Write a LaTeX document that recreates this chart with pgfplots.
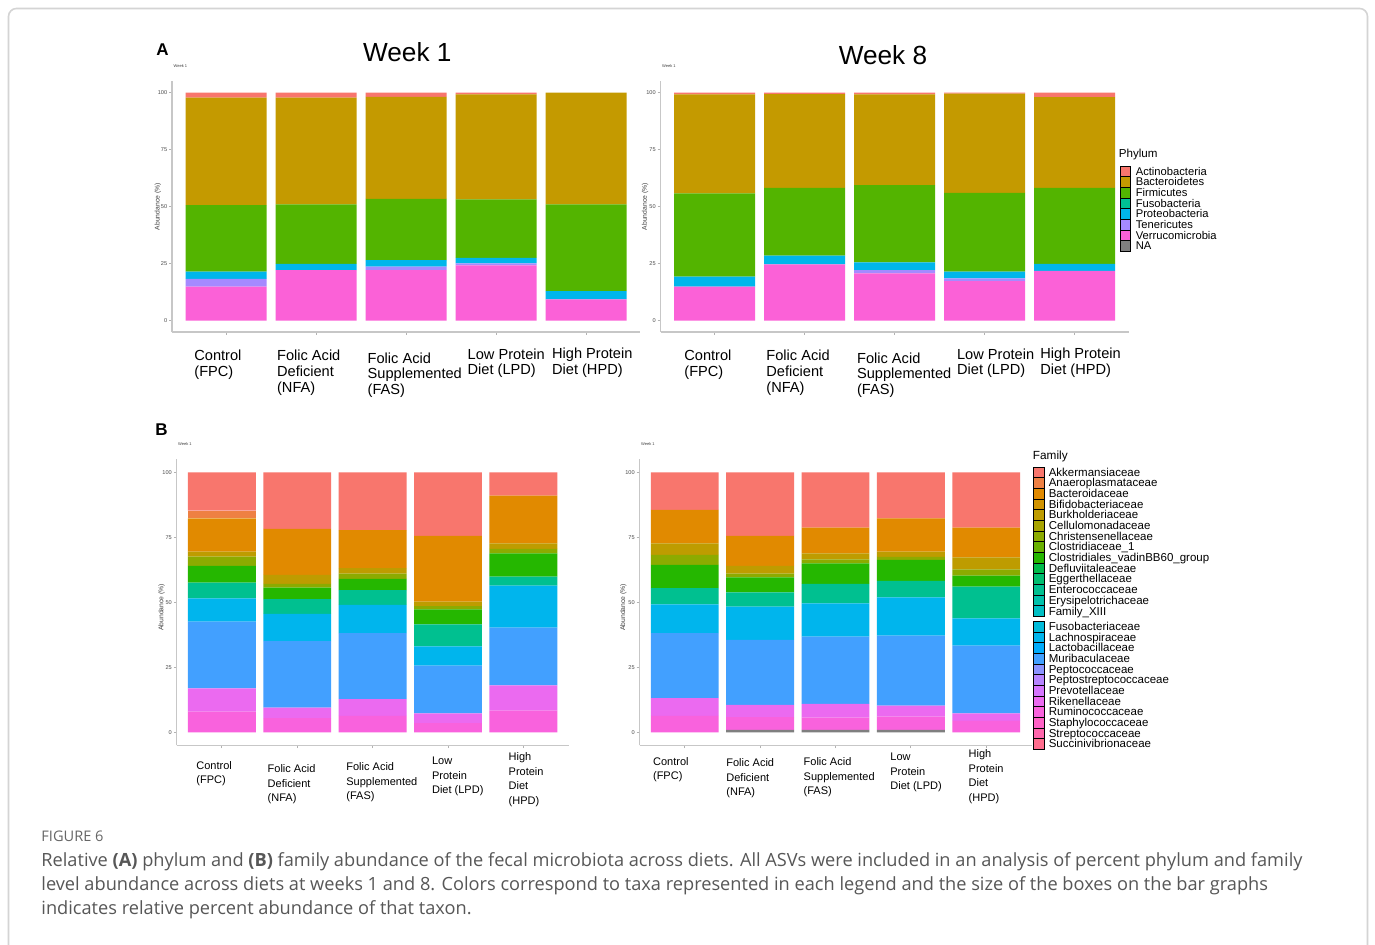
\documentclass[border=0pt]{standalone}
\usepackage{fontspec}
\setmainfont{Liberation Sans}
\newfontfamily\capfont{Open Sans}
\usepackage{graphicx}
\usepackage{pgfplots}
\pgfplotsset{compat=1.18}
\usepackage{pgfplotstable}

% ---------- colours ----------
% phylum palette (hue palette, 7 levels + grey for NA)
\definecolor{pAct}{HTML}{F8766D}
\definecolor{pBac}{HTML}{C49A00}
\definecolor{pFir}{HTML}{53B400}
\definecolor{pFus}{HTML}{00C094}
\definecolor{pPro}{HTML}{00B6EB}
\definecolor{pTen}{HTML}{A58AFF}
\definecolor{pVer}{HTML}{FB61D7}
\definecolor{pNA}{HTML}{7F7F7F}

% HCL (L=65, C=100) -> sRGB, used for the 26-level family palette
\newcommand\hclcolor[2]{%
  \pgfmathsetmacro\hclU{100*cos(#2)/845+0.19784}%
  \pgfmathsetmacro\hclV{100*sin(#2)/845+0.46834}%
  \pgfmathsetmacro\hclX{0.34047*9*\hclU/(4*\hclV)}%
  \pgfmathsetmacro\hclZ{0.34047*(12-3*\hclU-20*\hclV)/(4*\hclV)}%
  \pgfmathsetmacro\hclR{min(1,3.2406*\hclX-1.5372*0.34047-0.4986*\hclZ)}%
  \pgfmathsetmacro\hclG{min(1,-0.9689*\hclX+1.8758*0.34047+0.0415*\hclZ)}%
  \pgfmathsetmacro\hclB{min(1,0.0557*\hclX-0.2040*0.34047+1.0570*\hclZ)}%
  \pgfmathsetmacro\hclR{\hclR<0.0031308 ? 12.92*max(\hclR,0) : 1.055*pow(max(\hclR,0.0031308),1/2.4)-0.055}%
  \pgfmathsetmacro\hclG{\hclG<0.0031308 ? 12.92*max(\hclG,0) : 1.055*pow(max(\hclG,0.0031308),1/2.4)-0.055}%
  \pgfmathsetmacro\hclB{\hclB<0.0031308 ? 12.92*max(\hclB,0) : 1.055*pow(max(\hclB,0.0031308),1/2.4)-0.055}%
  \edef\hcltmp{\noexpand\definecolor{#1}{rgb}{\hclR,\hclG,\hclB}}\hcltmp}
\hclcolor{fAkk}{15}
\hclcolor{fAna}{28.85}
\hclcolor{fBac}{42.69}
\hclcolor{fBif}{56.54}
\hclcolor{fBur}{70.38}
\hclcolor{fCel}{84.23}
\hclcolor{fChr}{98.08}
\hclcolor{fClo}{111.92}
\hclcolor{fVad}{125.77}
\hclcolor{fDef}{139.62}
\hclcolor{fEgg}{153.46}
\hclcolor{fEnt}{167.31}
\hclcolor{fEry}{181.15}
\hclcolor{fFam}{195}
\hclcolor{fFus}{208.85}
\hclcolor{fLac}{222.69}
\hclcolor{fLab}{236.54}
\hclcolor{fMur}{250.38}
\hclcolor{fPep}{264.23}
\hclcolor{fPst}{278.08}
\hclcolor{fPre}{291.92}
\hclcolor{fRik}{305.77}
\hclcolor{fRum}{319.62}
\hclcolor{fSta}{333.46}
\hclcolor{fStr}{347.31}
\hclcolor{fSuc}{361.15}
\definecolor{fUnk}{HTML}{7F7F7F}

% ---------- data: relative abundance (%) per diet, stacked bottom-up ----------
\pgfplotstableread{
x Ver Ten Pro Fir Bac Act
1 14.9 3.4 3.2 29.2 47.1 2.2
2 22.2 0   2.7 26.1 46.8 2.2
3 22.2 1.5 2.9 26.8 44.8 1.8
4 24.3 0.8 2.5 25.6 46.1 0.7
5 9.4  0   3.6 38.0 49.0 0
}\phyWone
\pgfplotstableread{
x Ver Ten Pro Fir Bac Act
1 14.9 0   4.4 36.5 43.5 0.7
2 24.7 0   3.8 29.8 41.1 0.6
3 20.8 1.4 3.4 33.8 39.9 0.7
4 17.4 1.2 2.9 34.6 43.5 0.4
5 21.8 0   3.1 33.4 39.7 2.0
}\phyWeight
% Ent = Enterococcaceae/teal band, Vad = Clostridiales_vadinBB60_group
\pgfplotstableread{
x Unk Rum Rik Mur Lac Ent Vad Chr Bur Bac Ana Akk
1 0   7.9 9.0 25.7 8.9  6.1 6.4 3.6 1.9 12.8 3.0 14.7
2 0   5.4 4.1 25.6 10.4 5.7 4.4 1.5 3.4 17.7 0   21.8
3 0   6.3 6.5 25.3 10.9 5.7 4.3 2.0 2.1 14.7 0   22.2
4 0   3.5 3.8 18.3 7.4  8.5 5.8 1.2 1.8 25.2 0   24.5
5 0   8.3 9.7 22.3 16.1 3.5 8.9 1.7 2.2 18.3 0   9.0
}\famWone
\pgfplotstableread{
x Unk Rum Rik Mur Lac Ent Vad Chr Bur Bac Ana Akk
1 0   6.3 6.8 25.0 11.1 6.2  9.0 3.8 4.5 12.8 0 14.5
2 0.9 4.9 4.7 25.0 12.8 5.5  5.8 1.4 3.0 11.5 0 24.5
3 0.9 4.7 5.3 25.9 12.8 7.5  7.9 1.5 2.3 9.9  0 21.3
4 0.9 5.1 4.3 26.9 14.7 6.3  8.1 1.2 2.0 12.8 0 17.7
5 0   4.4 2.9 26.0 10.5 12.2 4.3 2.4 4.6 11.4 0 21.3
}\famWeight

\newcommand\phyplots[1]{%
  \addplot[fill=pVer,draw=none] table[x=x,y=Ver]{#1};
  \addplot[fill=pTen,draw=none] table[x=x,y=Ten]{#1};
  \addplot[fill=pPro,draw=none] table[x=x,y=Pro]{#1};
  \addplot[fill=pFir,draw=none] table[x=x,y=Fir]{#1};
  \addplot[fill=pBac,draw=none] table[x=x,y=Bac]{#1};
  \addplot[fill=pAct,draw=none] table[x=x,y=Act]{#1};
}
\newcommand\famplots[1]{%
  \addplot[fill=fUnk,draw=none] table[x=x,y=Unk]{#1};
  \addplot[fill=fRum,draw=none] table[x=x,y=Rum]{#1};
  \addplot[fill=fRik,draw=none] table[x=x,y=Rik]{#1};
  \addplot[fill=fMur,draw=none] table[x=x,y=Mur]{#1};
  \addplot[fill=fLac,draw=none] table[x=x,y=Lac]{#1};
  \addplot[fill=fEnt,draw=none] table[x=x,y=Ent]{#1};
  \addplot[fill=fVad,draw=none] table[x=x,y=Vad]{#1};
  \addplot[fill=fChr,draw=none] table[x=x,y=Chr]{#1};
  \addplot[fill=fBur,draw=none] table[x=x,y=Bur]{#1};
  \addplot[fill=fBac,draw=none] table[x=x,y=Bac]{#1};
  \addplot[fill=fAna,draw=none] table[x=x,y=Ana]{#1};
  \addplot[fill=fAkk,draw=none] table[x=x,y=Akk]{#1};
}

% legend rows of fixed height, so that the keys touch
\newcommand\lgA[1]{\smash{#1}\rule[-1.785pt]{0pt}{5.285pt}}
\newcommand\lgB[1]{\smash{#1}\rule[-1.8pt]{0pt}{5.345pt}}

\pgfplotsset{
  relbar/.style={
    scale only axis, ybar stacked, bar width=0.9,
    xmin=0.4, xmax=5.6, ymin=-5, ymax=105, enlargelimits=false,
    axis lines*=left,
    axis line style={-, draw=black!22, line width=0.6pt},
    xtick={1,2,3,4,5}, xticklabels={},
    ytick={0,25,50,75,100},
    tick style={draw=black!30, line width=0.4pt},
    major tick length=1.4pt, tick align=outside,
    /pgf/number format/assume math mode=true,
    yticklabel style={font=\fontsize{2.8pt}{3pt}\selectfont, text=black!70, inner sep=0.8pt},
    ylabel={Abundance (\%)},
    ylabel style={font=\fontsize{3.4pt}{4pt}\selectfont, text=black!75, anchor=center},
    title={Week 1},
    title style={at={(axis description cs:0,1)}, anchor=south west,
      font=\fontsize{2pt}{2.4pt}\selectfont, text=black!75, inner sep=0.6pt},
  },
  legA/.style={
    legend cell align=left,
    legend style={draw=none, fill=none, inner sep=0pt, outer sep=0pt,
      row sep=-0.86pt, column sep=2.5pt, anchor=north west,
      font=\fontsize{5.6pt}{6pt}\selectfont,
      nodes={inner sep=0pt, outer sep=0pt}},
  },
  legB/.style={
    legend cell align=left,
    legend style={draw=none, fill=none, inner sep=0pt, outer sep=0pt,
      row sep=-0.93pt, column sep=2pt, anchor=north west,
      font=\fontsize{5.75pt}{6pt}\selectfont,
      nodes={inner sep=0pt, outer sep=0pt}},
  },
}

\begin{document}
% outer coordinates: 1 unit = 0.5pt, given as (x, 945 - y) with y read from the top edge;
% axis positions are given in pt directly
\begin{tikzpicture}[x=0.5pt,y=0.5pt]
\useasboundingbox (0,0) rectangle (1375,945);
\fill[white] (0,0) rectangle (1375,945);
\draw[black!17, line width=0.8pt, rounded corners=4pt] (8.5,945-8.5) rectangle (1367.5,-40);

% ---- panel A: phylum ----
\node[font=\bfseries\fontsize{8.5pt}{9pt}\selectfont, inner sep=0] at (162.5,945-49.5) {A};
\node[font=\fontsize{13.1pt}{14pt}\selectfont, inner sep=0] at (407.3,945-52) {Week 1};
\node[font=\fontsize{13.1pt}{14pt}\selectfont, inner sep=0] at (883,945-55) {Week 8};

\begin{axis}[relbar, at={(86pt,306.45pt)}, anchor=south west, width=234pt, height=125.4pt,
  ylabel style={at={(axis description cs:-0.03,0.5)}}]
\phyplots{\phyWone}
\end{axis}

\begin{axis}[relbar, legA, at={(330.25pt,306.45pt)}, anchor=south west, width=234pt, height=125.4pt,
  ylabel style={at={(axis description cs:-0.033,0.5)}},
  legend style={at={(axis description cs:0.9818,0.6635)}},
  legend image code/.code={\fill[#1] (0pt,-1.785pt) rectangle (5pt,3.5pt);}]
\addlegendimage{fill=pAct}\addlegendentry{\lgA{Actinobacteria}}
\addlegendimage{fill=pBac}\addlegendentry{\lgA{Bacteroidetes}}
\addlegendimage{fill=pFir}\addlegendentry{\lgA{Firmicutes}}
\addlegendimage{fill=pFus}\addlegendentry{\lgA{Fusobacteria}}
\addlegendimage{fill=pPro}\addlegendentry{\lgA{Proteobacteria}}
\addlegendimage{fill=pTen}\addlegendentry{\lgA{Tenericutes}}
\addlegendimage{fill=pVer}\addlegendentry{\lgA{Verrucomicrobia}}
\addlegendimage{fill=pNA}\addlegendentry{\lgA{NA}}
\phyplots{\phyWeight}
\end{axis}
\node[anchor=west, inner sep=0, font=\fontsize{5.8pt}{6pt}\selectfont] at (1118.5,945-155) {Phylum};

\begin{scope}[every node/.style={anchor=north west, inner sep=0, align=left,
    font=\fontsize{7.3pt}{7.85pt}\selectfont}]
\node at (194,945-350) {Control\\(FPC)};
\node at (276.7,945-350) {Folic Acid\\Deficient\\(NFA)};
\node at (367.3,945-352.3) {Folic Acid\\Supplemented\\(FAS)};
\node at (467.3,945-348.3) {Low Protein\\Diet (LPD)};
\node at (551.7,945-347.7) {High Protein\\Diet (HPD)};
\node at (684,945-350) {Control\\(FPC)};
\node at (766,945-350) {Folic Acid\\Deficient\\(NFA)};
\node at (856.7,945-352.3) {Folic Acid\\Supplemented\\(FAS)};
\node at (956.7,945-348.3) {Low Protein\\Diet (LPD)};
\node at (1040,945-347.7) {High Protein\\Diet (HPD)};
\end{scope}

% ---- panel B: family ----
\node[font=\bfseries\fontsize{8.5pt}{9pt}\selectfont, inner sep=0] at (161.5,945-430) {B};

\begin{axis}[relbar, legB, at={(88.3pt,99.85pt)}, anchor=south west, width=196pt, height=143pt,
  ylabel style={at={(axis description cs:-0.038,0.482)}},
  legend style={at={(axis description cs:2.1847,0.4346)}},
  legend image code/.code={\fill[#1] (0pt,-1.8pt) rectangle (5.5pt,3.545pt);}]
\addlegendimage{fill=fFus}\addlegendentry{\lgB{Fusobacteriaceae}}
\addlegendimage{fill=fLac}\addlegendentry{\lgB{Lachnospiraceae}}
\addlegendimage{fill=fLab}\addlegendentry{\lgB{Lactobacillaceae}}
\addlegendimage{fill=fMur}\addlegendentry{\lgB{Muribaculaceae}}
\addlegendimage{fill=fPep}\addlegendentry{\lgB{Peptococcaceae}}
\addlegendimage{fill=fPst}\addlegendentry{\lgB{Peptostreptococcaceae}}
\addlegendimage{fill=fPre}\addlegendentry{\lgB{Prevotellaceae}}
\addlegendimage{fill=fRik}\addlegendentry{\lgB{Rikenellaceae}}
\addlegendimage{fill=fRum}\addlegendentry{\lgB{Ruminococcaceae}}
\addlegendimage{fill=fSta}\addlegendentry{\lgB{Staphylococcaceae}}
\addlegendimage{fill=fStr}\addlegendentry{\lgB{Streptococcaceae}}
\addlegendimage{fill=fSuc}\addlegendentry{\lgB{Succinivibrionaceae}}
\famplots{\famWone}
\end{axis}

\begin{axis}[relbar, legB, at={(319.75pt,99.85pt)}, anchor=south west, width=196pt, height=143pt,
  ylabel style={at={(axis description cs:-0.041,0.482)}},
  legend style={at={(axis description cs:1.0038,0.9741)}},
  legend image code/.code={\fill[#1] (0pt,-1.8pt) rectangle (5.5pt,3.545pt);}]
\addlegendimage{fill=fAkk}\addlegendentry{\lgB{Akkermansiaceae}}
\addlegendimage{fill=fAna}\addlegendentry{\lgB{Anaeroplasmataceae}}
\addlegendimage{fill=fBac}\addlegendentry{\lgB{Bacteroidaceae}}
\addlegendimage{fill=fBif}\addlegendentry{\lgB{Bifidobacteriaceae}}
\addlegendimage{fill=fBur}\addlegendentry{\lgB{Burkholderiaceae}}
\addlegendimage{fill=fCel}\addlegendentry{\lgB{Cellulomonadaceae}}
\addlegendimage{fill=fChr}\addlegendentry{\lgB{Christensenellaceae}}
\addlegendimage{fill=fClo}\addlegendentry{\lgB{Clostridiaceae\_1}}
\addlegendimage{fill=fVad}\addlegendentry{\lgB{Clostridiales\_vadinBB60\_group}}
\addlegendimage{fill=fDef}\addlegendentry{\lgB{Defluviitaleaceae}}
\addlegendimage{fill=fEgg}\addlegendentry{\lgB{Eggerthellaceae}}
\addlegendimage{fill=fEnt}\addlegendentry{\lgB{Enterococcaceae}}
\addlegendimage{fill=fEry}\addlegendentry{\lgB{Erysipelotrichaceae}}
\addlegendimage{fill=fFam}\addlegendentry{\lgB{Family\_XIII}}
\famplots{\famWeight}
\end{axis}
\node[anchor=west, inner sep=0, font=\fontsize{5.9pt}{6pt}\selectfont] at (1032.5,945-456) {Family};

\begin{scope}[every node/.style={anchor=north west, inner sep=0, align=left,
    font=\fontsize{5.5pt}{7.25pt}\selectfont}]
\node at (196,945-761) {Control\\(FPC)};
\node at (267.3,945-764.3) {Folic Acid\\Deficient\\(NFA)};
\node at (346,945-762.3) {Folic Acid\\Supplemented\\(FAS)};
\node at (431.7,945-756.7) {Low\\Protein\\Diet (LPD)};
\node at (508.3,945-752.3) {High\\Protein\\Diet\\(HPD)};
\node at (652.7,945-756.7) {Control\\(FPC)};
\node at (726,945-758.3) {Folic Acid\\Deficient\\(NFA)};
\node at (803.3,945-757.3) {Folic Acid\\Supplemented\\(FAS)};
\node at (890,945-752.7) {Low\\Protein\\Diet (LPD)};
\node at (968.3,945-749.3) {High\\Protein\\Diet\\(HPD)};
\end{scope}

% ---- caption ----
\node[anchor=base west, inner sep=0, text=black!60, font=\capfont\fontsize{7.3pt}{8pt}\selectfont] at (41,945-842) {FIGURE 6};
\begin{scope}[every node/.style={anchor=base west, inner sep=0, text=black!66,
    font=\capfont\fontsize{9.1pt}{10pt}\selectfont}]
\node at (41,945-867) {Relative \textbf{(A)} phylum and \textbf{(B)} family abundance of the fecal microbiota across diets. All ASVs were included in an analysis of percent phylum and family};
\node at (41,945-891) {level abundance across diets at weeks 1 and 8. Colors correspond to taxa represented in each legend and the size of the boxes on the bar graphs};
\node at (41,945-915) {indicates relative percent abundance of that taxon.};
\end{scope}
\end{tikzpicture}
\end{document}
